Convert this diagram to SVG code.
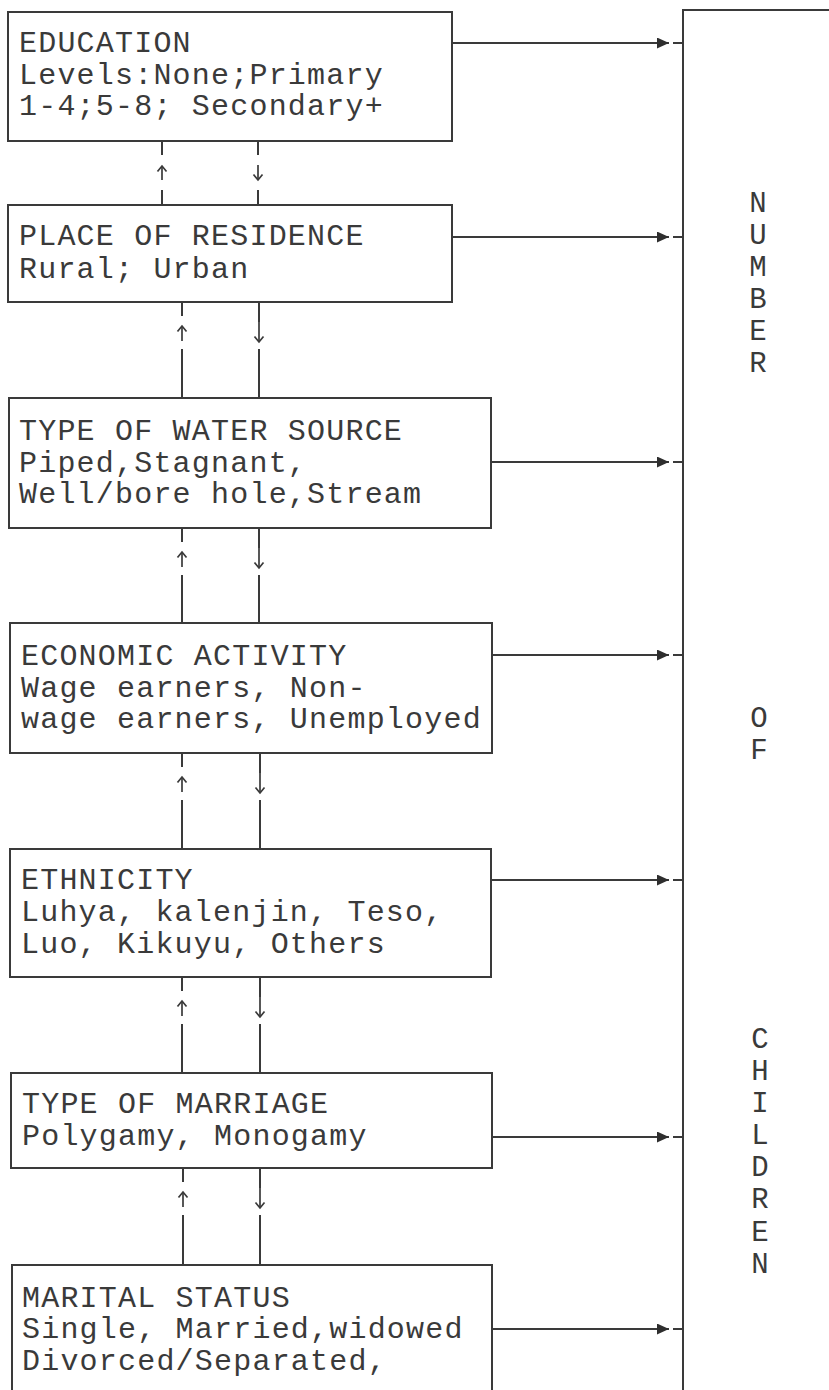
<svg xmlns="http://www.w3.org/2000/svg" width="829" height="1390" viewBox="0 0 829 1390">
<defs>
<style>
.box{fill:none;stroke:#3a3a3a;stroke-width:2}
.t{font-family:"Liberation Mono","Courier New",monospace;font-size:30px;letter-spacing:1.2px;fill:#3a3a3a}
.v{font-family:"Liberation Mono","Courier New",monospace;font-size:29px;fill:#3a3a3a;text-anchor:middle}
.ln{stroke:#3a3a3a;stroke-width:2;fill:none}
.sm{stroke:#3a3a3a;stroke-width:1.7;fill:none}
</style>
<marker id="tri" markerUnits="userSpaceOnUse" markerWidth="14" markerHeight="12" refX="12" refY="5.5" orient="auto">
<path d="M0,0 L12,5.5 L0,11 Z" fill="#2e2e2e"/>
</marker>
<marker id="chev" markerUnits="userSpaceOnUse" markerWidth="12" markerHeight="12" refX="7" refY="6" orient="auto">
<path d="M1.5,1.5 L7,6 L1.5,10.5" fill="none" stroke="#3a3a3a" stroke-width="1.7"/>
</marker>
</defs>
<rect width="829" height="1390" fill="#ffffff"/>

<g id="outcome">
<rect class="box" x="683" y="10" width="200" height="1500"/>
<text class="v" x="758" y="212">N</text>
<text class="v" x="758" y="244">U</text>
<text class="v" x="758" y="276">M</text>
<text class="v" x="758" y="308">B</text>
<text class="v" x="758" y="340">E</text>
<text class="v" x="758" y="372">R</text>
<text class="v" x="759" y="727">O</text>
<text class="v" x="759" y="759">F</text>
<text class="v" x="760" y="1048">C</text>
<text class="v" x="760" y="1080">H</text>
<text class="v" x="760" y="1112">I</text>
<text class="v" x="760" y="1144">L</text>
<text class="v" x="760" y="1176">D</text>
<text class="v" x="760" y="1208">R</text>
<text class="v" x="760" y="1241">E</text>
<text class="v" x="760" y="1273">N</text>
</g>

<g id="education">
<rect class="box" x="8" y="12" width="444" height="129"/>
<text class="t" x="19" y="52">EDUCATION</text>
<text class="t" x="19" y="83.5">Levels:None;Primary</text>
<text class="t" x="19" y="115">1-4;5-8; Secondary+</text>
</g>

<g id="residence">
<rect class="box" x="8" y="205" width="444" height="97"/>
<text class="t" x="19" y="245">PLACE OF RESIDENCE</text>
<text class="t" x="19" y="278">Rural; Urban</text>
</g>

<g id="water">
<rect class="box" x="9" y="398" width="482" height="130"/>
<text class="t" x="19" y="440">TYPE OF WATER SOURCE</text>
<text class="t" x="19" y="472">Piped,Stagnant,</text>
<text class="t" x="19" y="503">Well/bore hole,Stream</text>
</g>

<g id="economic">
<rect class="box" x="10" y="623" width="482" height="130"/>
<text class="t" x="21" y="665">ECONOMIC ACTIVITY</text>
<text class="t" x="21" y="697">Wage earners, Non-</text>
<text class="t" x="21" y="728">wage earners, Unemployed</text>
</g>

<g id="ethnicity">
<rect class="box" x="10" y="849" width="481" height="128"/>
<text class="t" x="21" y="889">ETHNICITY</text>
<text class="t" x="21" y="921">Luhya, kalenjin, Teso,</text>
<text class="t" x="21" y="953">Luo, Kikuyu, Others</text>
</g>

<g id="marriage">
<rect class="box" x="11" y="1073" width="481" height="95"/>
<text class="t" x="22" y="1113">TYPE OF MARRIAGE</text>
<text class="t" x="22" y="1145">Polygamy, Monogamy</text>
</g>

<g id="marital">
<rect class="box" x="12" y="1265" width="480" height="200"/>
<text class="t" x="22" y="1307">MARITAL STATUS</text>
<text class="t" x="22" y="1338">Single, Married,widowed</text>
<text class="t" x="22" y="1370">Divorced/Separated,</text>
</g>

<g id="connectors">
<line class="ln" x1="452" y1="43" x2="669" y2="43" marker-end="url(#tri)"/>
<line class="ln" x1="673" y1="43" x2="683" y2="43"/>
<line class="ln" x1="452" y1="237" x2="669" y2="237" marker-end="url(#tri)"/>
<line class="ln" x1="673" y1="237" x2="683" y2="237"/>
<line class="ln" x1="491" y1="462" x2="669" y2="462" marker-end="url(#tri)"/>
<line class="ln" x1="673" y1="462" x2="683" y2="462"/>
<line class="ln" x1="492" y1="655" x2="669" y2="655" marker-end="url(#tri)"/>
<line class="ln" x1="673" y1="655" x2="683" y2="655"/>
<line class="ln" x1="491" y1="880" x2="669" y2="880" marker-end="url(#tri)"/>
<line class="ln" x1="673" y1="880" x2="683" y2="880"/>
<line class="ln" x1="492" y1="1137" x2="669" y2="1137" marker-end="url(#tri)"/>
<line class="ln" x1="673" y1="1137" x2="683" y2="1137"/>
<line class="ln" x1="492" y1="1329" x2="669" y2="1329" marker-end="url(#tri)"/>
<line class="ln" x1="673" y1="1329" x2="683" y2="1329"/>

<line class="ln" x1="162" y1="141" x2="162" y2="155"/>
<line class="sm" x1="162" y1="180" x2="162" y2="166" marker-end="url(#chev)"/>
<line class="ln" x1="162" y1="190" x2="162" y2="205"/>
<line class="ln" x1="258" y1="141" x2="258" y2="155"/>
<line class="sm" x1="258" y1="165" x2="258" y2="180" marker-end="url(#chev)"/>
<line class="ln" x1="258" y1="190" x2="258" y2="205"/>

<line class="ln" x1="182" y1="302" x2="182" y2="316"/>
<line class="sm" x1="182" y1="341" x2="182" y2="326" marker-end="url(#chev)"/>
<line class="ln" x1="182" y1="349" x2="182" y2="398"/>
<line class="ln" x1="259" y1="302" x2="259" y2="322"/>
<line class="sm" x1="259" y1="322" x2="259" y2="342" marker-end="url(#chev)"/>
<line class="ln" x1="259" y1="349" x2="259" y2="398"/>

<line class="ln" x1="182" y1="528" x2="182" y2="542"/>
<line class="sm" x1="182" y1="567" x2="182" y2="552" marker-end="url(#chev)"/>
<line class="ln" x1="182" y1="575" x2="182" y2="623"/>
<line class="ln" x1="259" y1="528" x2="259" y2="548"/>
<line class="sm" x1="259" y1="548" x2="259" y2="568" marker-end="url(#chev)"/>
<line class="ln" x1="259" y1="575" x2="259" y2="623"/>

<line class="ln" x1="182" y1="753" x2="182" y2="767"/>
<line class="sm" x1="182" y1="792" x2="182" y2="777" marker-end="url(#chev)"/>
<line class="ln" x1="182" y1="800" x2="182" y2="849"/>
<line class="ln" x1="260" y1="753" x2="260" y2="773"/>
<line class="sm" x1="260" y1="773" x2="260" y2="793" marker-end="url(#chev)"/>
<line class="ln" x1="260" y1="800" x2="260" y2="849"/>

<line class="ln" x1="182" y1="977" x2="182" y2="991"/>
<line class="sm" x1="182" y1="1016" x2="182" y2="1001" marker-end="url(#chev)"/>
<line class="ln" x1="182" y1="1024" x2="182" y2="1073"/>
<line class="ln" x1="260" y1="977" x2="260" y2="997"/>
<line class="sm" x1="260" y1="997" x2="260" y2="1017" marker-end="url(#chev)"/>
<line class="ln" x1="260" y1="1024" x2="260" y2="1073"/>

<line class="ln" x1="183" y1="1168" x2="183" y2="1182"/>
<line class="sm" x1="183" y1="1207" x2="183" y2="1192" marker-end="url(#chev)"/>
<line class="ln" x1="183" y1="1215" x2="183" y2="1265"/>
<line class="ln" x1="260" y1="1168" x2="260" y2="1188"/>
<line class="sm" x1="260" y1="1188" x2="260" y2="1208" marker-end="url(#chev)"/>
<line class="ln" x1="260" y1="1215" x2="260" y2="1265"/>
</g>
</svg>
